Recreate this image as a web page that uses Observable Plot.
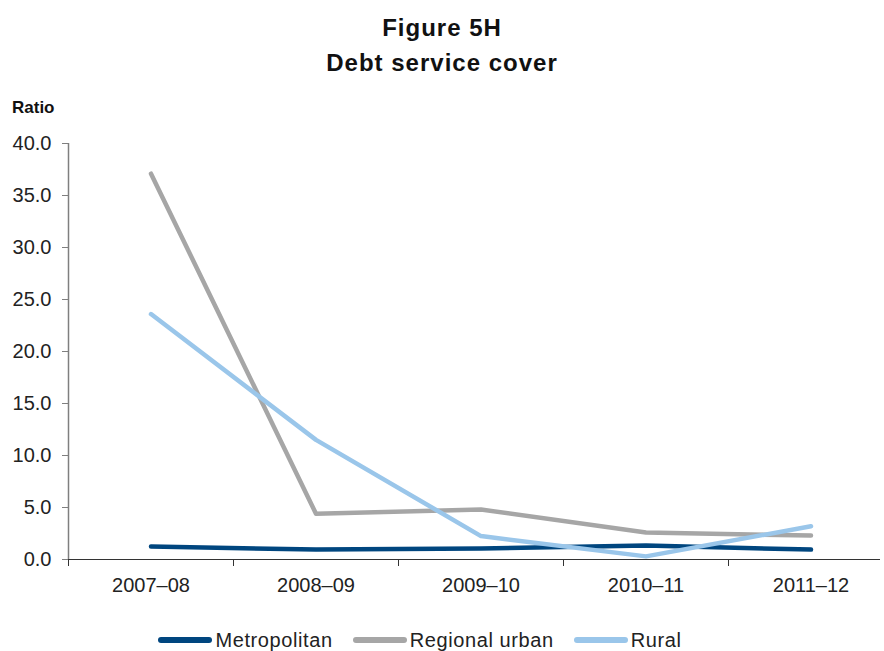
<!DOCTYPE html>
<html>
<head>
<meta charset="utf-8">
<script src="https://cdn.jsdelivr.net/npm/d3@7"></script>
<script src="https://cdn.jsdelivr.net/npm/@observablehq/plot@0.6"></script>
<style>
  body { margin: 0; background: #fff; font-family: "Liberation Sans", Arial, sans-serif; color: #222; }
  #wrap { width: 884px; height: 651px; position: relative; overflow: hidden; }
  .title { position: absolute; left: 0; width: 884px; text-align: center; font-weight: bold; font-size: 24px; letter-spacing: 1px; color: #111; line-height: 24px; }
  .ylab { position: absolute; left: 12px; top: 98px; font-weight: bold; font-size: 17px; line-height: 20px; color: #111; }
  #chart { position: absolute; left: 0; top: 125px; }
  .legend { position: absolute; left: 0; width: 884px; top: 628px; display: flex; justify-content: center; gap: 20px; font-size: 20px; letter-spacing: 0.6px; line-height: 24px; padding-right: 44px; box-sizing: border-box; }
  .legend span { display: inline-flex; align-items: center; }
  .legend i { display: inline-block; width: 54px; height: 6px; border-radius: 3px; margin-right: 3px; }
</style>
</head>
<body>
<div id="wrap">
  <div class="title" style="top:16px">Figure 5H</div>
  <div class="title" style="top:51px">Debt service cover</div>
  <div class="ylab">Ratio</div>
  <div id="chart"></div>
  <div class="legend" id="legend"></div>
</div>
<script>
const years = ["2007–08", "2008–09", "2009–10", "2010–11", "2011–12"];
const seriesNames = ["Metropolitan", "Regional urban", "Rural"];
const seriesColors = ["#00467f", "#a6a6a6", "#9ac6ea"];
const metropolitan = [1.25, 0.95, 1.05, 1.35, 0.95];
const regionalUrban = [37.1, 4.4, 4.8, 2.6, 2.3];
const rural = [23.6, 11.5, 2.25, 0.3, 3.2];
const yTicks = [0, 5, 10, 15, 20, 25, 30, 35, 40];

const valuesBySeries = [metropolitan, regionalUrban, rural];
const rows = [];
seriesNames.forEach((name, s) => {
  valuesBySeries[s].forEach((v, i) => rows.push({series: name, i, value: v}));
});
// Band edges between categories, for the category-axis tick marks
const edges = d3.range(years.length).map(i => i - 0.5);

const chart = Plot.plot({
  width: 884,
  height: 480,
  marginLeft: 68,
  marginRight: 4,
  marginTop: 18,
  marginBottom: 46,
  style: {fontFamily: "Liberation Sans, Arial, sans-serif", color: "#222", overflow: "visible"},
  x: {domain: [-0.5, years.length - 0.5], range: [68, 893]},
  y: {domain: [0, 40]},
  color: {domain: seriesNames, range: seriesColors},
  marks: [
    Plot.ruleX([-0.5], {y1: 0, y2: 40, stroke: "#7f7f7f", strokeWidth: 1.5}),
    Plot.axisY({ticks: yTicks, tickFormat: d3.format(".1f"), tickSize: 6, tickPadding: 11, stroke: "#7f7f7f", fontSize: 20, fill: "#222", label: null}),
    Plot.axisX({ticks: edges, tickFormat: () => "", tickSize: 7, stroke: "#333", label: null}),
    Plot.axisX({ticks: d3.range(years.length), tickFormat: i => years[i], tickSize: 0, tickPadding: 18, fontSize: 20, fill: "#222", label: null, style: {letterSpacing: "0.6px"}}),
    Plot.ruleY([0], {stroke: "#333", strokeWidth: 1.2}),
    Plot.line(rows, {x: "i", y: "value", z: "series", stroke: "series", strokeWidth: 4.5, strokeLinecap: "round", strokeLinejoin: "round"})
  ]
});
document.getElementById("chart").appendChild(chart);

const legend = document.getElementById("legend");
seriesNames.forEach((name, s) => {
  const item = document.createElement("span");
  const sw = document.createElement("i");
  sw.style.background = seriesColors[s];
  item.appendChild(sw);
  item.appendChild(document.createTextNode(name));
  legend.appendChild(item);
});
</script>
</body>
</html>
